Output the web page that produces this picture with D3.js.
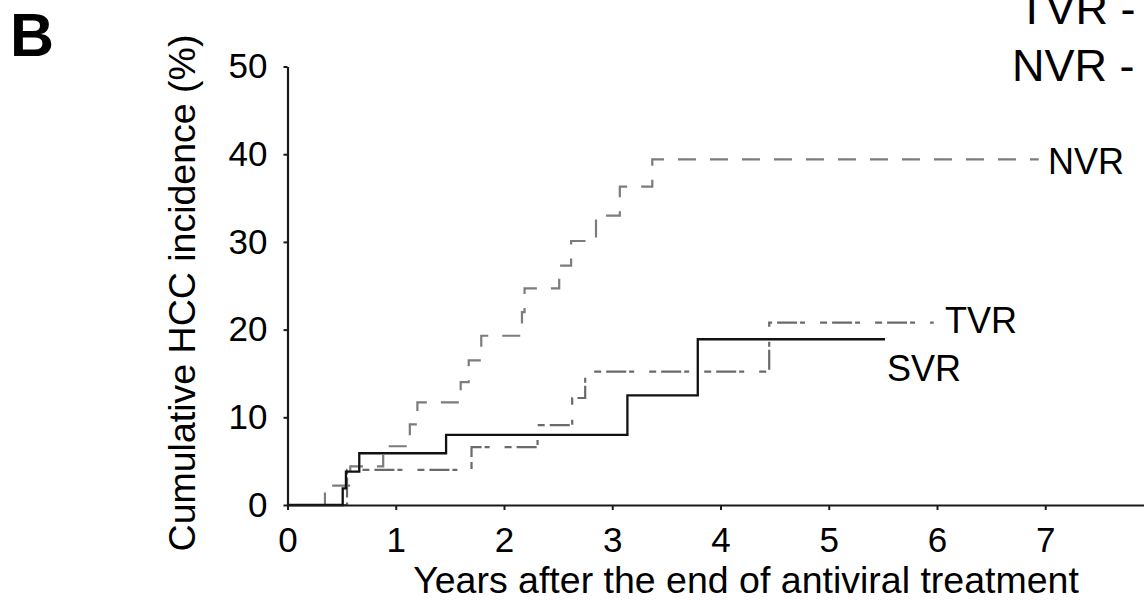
<!DOCTYPE html>
<html>
<head>
<meta charset="utf-8">
<script src="https://cdn.jsdelivr.net/npm/d3@7"></script>
<style>
  html, body { margin: 0; padding: 0; background: #fff; }
  svg { display: block; }
  text { font-family: "Liberation Sans", Arial, Helvetica, sans-serif; fill: #000; }
</style>
</head>
<body>
<svg id="chart" width="1144" height="601"></svg>
<script>
// Cumulative HCC incidence (Kaplan-Meier style step curves) by response group.
// Each series: times (years) where the curve steps, the level (%) after each step,
// and the time at which the curve stops.
const svrTimes  = [0, 0.51, 0.54, 0.663, 1.465, 3.14, 3.79];
const svrValues = [0, 1.9, 3.8, 5.9, 8.0, 12.5, 18.9];
const svrEnd    = 5.52;

const tvrTimes  = [0, 0.55, 1.70, 2.31, 2.63, 2.75, 4.45];
const tvrValues = [0, 4.0, 6.6, 9.1, 12.2, 15.2, 20.8];
const tvrEnd    = 5.97;

const nvrTimes  = [0, 0.346, 0.58, 0.884, 1.13, 1.20, 1.60, 1.674, 1.79, 2.166, 2.19, 2.51, 2.62, 2.85, 3.07, 3.37];
const nvrValues = [0, 2.2, 4.4, 6.7, 9.2, 11.7, 14.0, 16.5, 19.3, 22.0, 24.7, 27.3, 30.1, 33.0, 36.3, 39.4];
const nvrEnd    = 6.94;

const xTickValues = [0, 1, 2, 3, 4, 5, 6, 7];
const yTickValues = [0, 10, 20, 30, 40, 50];

const svg = d3.select("#chart");

const plotLeft = 287.5, plotRight = 1144, plotTop = 66.5, plotBottom = 505;
const pxPerYear = 108.25;

const x = d3.scaleLinear().domain([0, (plotRight - plotLeft) / pxPerYear]).range([plotLeft, plotRight]);
const y = d3.scaleLinear().domain([0, 50]).range([plotBottom, plotTop]);

const stepLine = d3.line()
  .x(d => x(d[0]))
  .y(d => y(d[1]))
  .curve(d3.curveStepAfter);

function points(times, values, end) {
  const p = times.map((t, i) => [t, values[i]]);
  p.push([end, values[values.length - 1]]);
  return p;
}

// curves
svg.append("path")
  .attr("d", stepLine(points(nvrTimes, nvrValues, nvrEnd)))
  .attr("fill", "none")
  .attr("stroke", "#7c7c7c")
  .attr("stroke-width", 2.2)
  .attr("stroke-dasharray", "18,14");

svg.append("path")
  .attr("d", stepLine(points(tvrTimes, tvrValues, tvrEnd)))
  .attr("fill", "none")
  .attr("stroke", "#6a6a6a")
  .attr("stroke-width", 2.2)
  .attr("stroke-dasharray", "7,5,20,3,5,15");

svg.append("path")
  .attr("d", stepLine(points(svrTimes, svrValues, svrEnd)))
  .attr("fill", "none")
  .attr("stroke", "#111")
  .attr("stroke-width", 2.3);

// axes
const xAxis = svg.append("g")
  .attr("transform", `translate(0,${plotBottom})`)
  .call(d3.axisBottom(x).tickValues(xTickValues).tickFormat(d3.format("d"))
    .tickSize(5).tickSizeOuter(0).tickPadding(17));

const yAxis = svg.append("g")
  .attr("transform", `translate(${plotLeft},0)`)
  .call(d3.axisLeft(y).tickValues(yTickValues).tickFormat(d3.format("d"))
    .tickSize(4).tickSizeOuter(0).tickPadding(16));

[xAxis, yAxis].forEach(g => {
  g.select(".domain").attr("stroke", "#1a1a1a").attr("stroke-width", 2.2);
  g.selectAll(".tick line").attr("stroke", "#1a1a1a").attr("stroke-width", 2);
  g.selectAll(".tick text")
    .attr("font-family", '"Liberation Sans", Arial, sans-serif')
    .attr("font-size", 35)
    .attr("fill", "#000");
});

// axis titles
svg.append("text")
  .attr("x", 746)
  .attr("y", 593)
  .attr("text-anchor", "middle")
  .attr("font-size", 37.5)
  .text("Years after the end of antiviral treatment");

svg.append("text")
  .attr("transform", "translate(195,293) rotate(-90)")
  .attr("text-anchor", "middle")
  .attr("font-size", 37.5)
  .text("Cumulative HCC incidence (%)");

// curve labels
svg.append("text").attr("x", 1048).attr("y", 174).attr("font-size", 36).text("NVR");
svg.append("text").attr("x", 945).attr("y", 333).attr("font-size", 36).text("TVR");
svg.append("text").attr("x", 887).attr("y", 381).attr("font-size", 36).text("SVR");

// group key at top right
svg.append("text").attr("x", 1018).attr("y", 24).attr("font-size", 45).text("TVR -");
svg.append("text").attr("x", 1012).attr("y", 81).attr("font-size", 45).text("NVR -");

// panel letter
svg.append("text")
  .attr("x", 10)
  .attr("y", 56)
  .attr("font-size", 61)
  .attr("font-weight", "bold")
  .text("B");
</script>
</body>
</html>
